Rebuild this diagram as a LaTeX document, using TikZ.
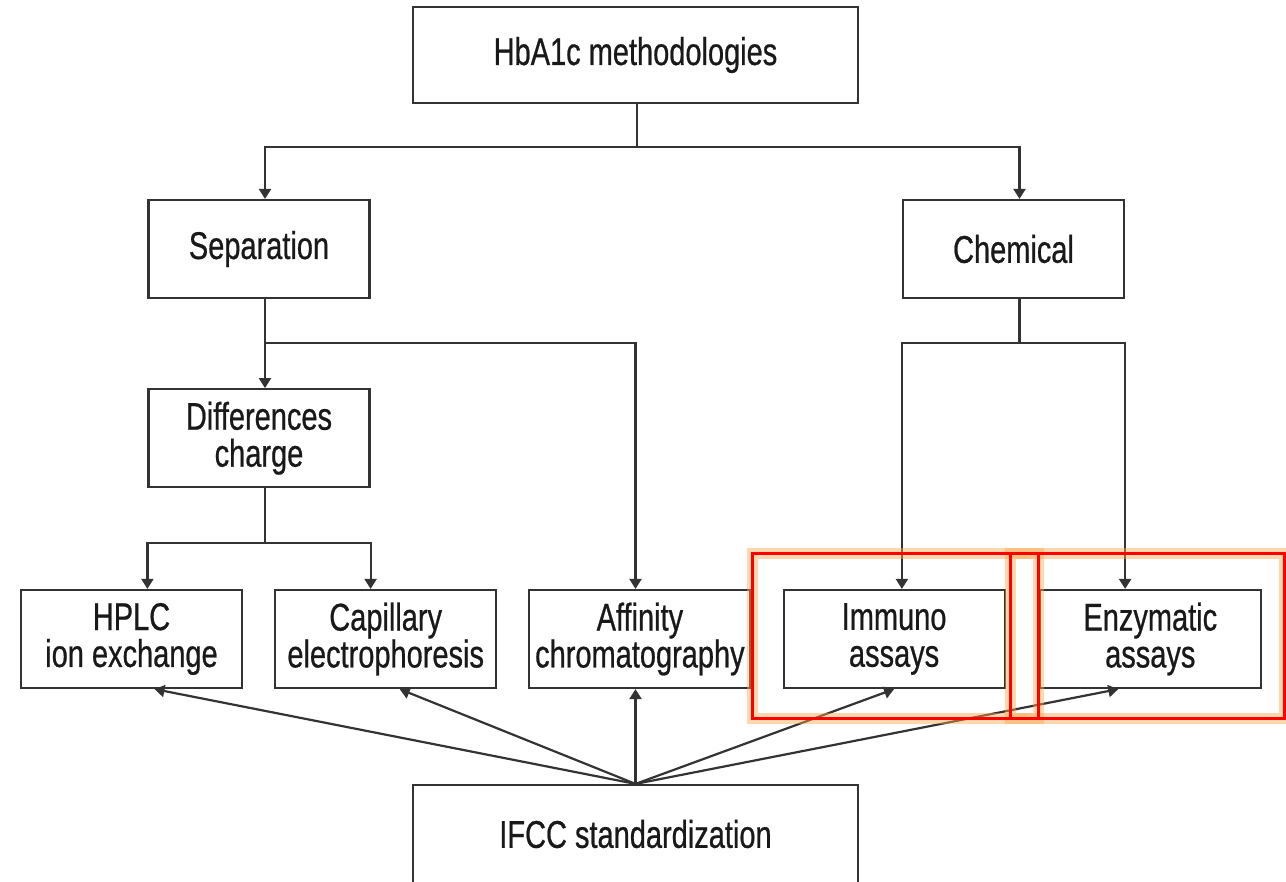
\documentclass[tikz,border=0pt]{standalone}
\usepackage{fontspec}
\setmainfont[FakeStretch=0.75,FakeBold=0.6]{Liberation Sans}
\usetikzlibrary{positioning,arrows.meta}

\begin{document}
\begin{tikzpicture}[
  node distance=0.62cm,
  box/.style={draw=black!80, line width=1.25pt, align=center, text=black!90, minimum width=4.42cm, minimum height=1.96cm, inner sep=0pt, font=\fontsize{22}{21}\selectfont},
  wide/.style={box, minimum width=8.9cm, minimum height=1.92cm},
  line/.style={draw=black!80, line width=1.25pt},
  arr/.style={line, -{Triangle[length=2mm,width=2.4mm]}},
  glow/.style={draw=orange!70, line width=0.22cm, opacity=0.45},
  hilite/.style={draw=red, line width=0.06cm}
]
\useasboundingbox (0,0) rectangle (25.72,-17.64);

\node[wide] (top) at (12.71,-1.1) {HbA1c methodologies};
\node[box] (sep) at (5.18,-4.98) {Separation};
\node[box] (chem) at (20.27,-4.98) {Chemical};
\node[box, below=1.78cm of sep] (diff) {Differences\\charge};
\node[box] (hplc) at (2.63,-12.78) {HPLC\\ion exchange};
\node[box, right=of hplc] (cap) {Capillary\\electrophoresis};
\node[box, right=of cap] (aff) {Affinity\\chromatography};
\node[box, right=of aff] (imm) {Immuno\\assays};
\node[box, right=0.66cm of imm] (enz) {Enzymatic\\assays};
\node[wide, minimum height=1.96cm] (ifcc) at (12.71,-16.68) {IFCC standardization};

\draw[arr] ([xshift=0.03cm]top.south) -- ++(0,-0.86) -| ([xshift=0.12cm]sep.north);
\draw[arr] ([xshift=0.03cm]top.south) -- ++(0,-0.86) -| ([xshift=0.12cm]chem.north);
\draw[arr] ([xshift=0.12cm]sep.south) -- ([xshift=0.12cm]diff.north);
\draw[arr] ([xshift=0.12cm]sep.south) -- ++(0,-0.88) -| (ifcc.north |- aff.north);
\draw[arr] ([xshift=0.12cm]diff.south) -- ++(0,-1.1) -| (diff.west |- hplc.north);
\draw[arr] ([xshift=0.12cm]diff.south) -- ++(0,-1.1) -| (diff.east |- cap.north);
\draw[arr] ([xshift=0.12cm]chem.south) -- ++(0,-0.88) -| (chem.west |- imm.north);
\draw[arr] ([xshift=0.12cm]chem.south) -- ++(0,-0.88) -| (chem.east |- enz.north);

\draw[arr] (ifcc.north) -- ([xshift=0.46cm]hplc.south);
\draw[arr] (ifcc.north) -- ([xshift=0.28cm]cap.south);
\draw[arr] (ifcc.north) -- (ifcc.north |- aff.south);
\draw[arr] (ifcc.north) -- (imm.south);
\draw[arr] (ifcc.north) -- ([xshift=-0.64cm]enz.south);

\draw[glow] (15.04,-11.06) rectangle (20.76,-14.36);
\draw[glow] (20.2,-11.06) rectangle (25.68,-14.36);
\draw[hilite] (15.04,-11.06) rectangle (20.76,-14.36);
\draw[hilite] (20.2,-11.06) rectangle (25.68,-14.36);
\end{tikzpicture}
\end{document}
